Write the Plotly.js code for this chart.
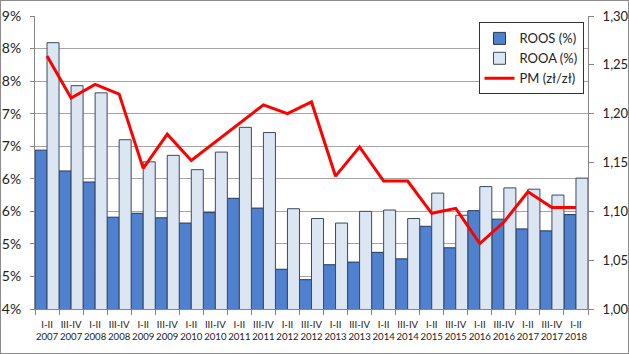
<!DOCTYPE html>
<html>
<head>
<meta charset="utf-8">
<script src="https://cdn.plot.ly/plotly-3.0.1.min.js"></script>
<style>
html,body{margin:0;padding:0;background:#fff;}
#wrap{width:627px;height:352px;border:1px solid #8c8c8c;position:relative;overflow:hidden;}
#chart{width:627px;height:352px;}
</style>
</head>
<body>
<div id="wrap"><div id="chart"></div></div>
<script>
const periods = ["I-II","III-IV","I-II","III-IV","I-II","III-IV","I-II","III-IV","I-II","III-IV","I-II","III-IV","I-II","III-IV","I-II","III-IV","I-II","III-IV","I-II","III-IV","I-II","III-IV","I-II"];
const years = ["2007","2007","2008","2008","2009","2009","2010","2010","2011","2011","2012","2012","2013","2013","2014","2014","2015","2015","2016","2016","2017","2017","2018"];
const roos = [6.44,6.12,5.95,5.41,5.47,5.40,5.32,5.48,5.70,5.55,4.61,4.45,4.68,4.72,4.87,4.77,5.27,4.94,5.51,5.38,5.23,5.20,5.45];
const rooa = [8.09,7.43,7.32,6.60,6.26,6.36,6.14,6.41,6.79,6.71,5.54,5.39,5.32,5.50,5.52,5.39,5.78,5.44,5.88,5.86,5.84,5.75,6.01];
const pm = [1.259,1.216,1.230,1.220,1.144,1.179,1.152,1.171,1.190,1.209,1.200,1.212,1.136,1.166,1.131,1.131,1.098,1.103,1.067,1.089,1.120,1.104,1.104];
const leftTickVals = [4,4.5,5,5.5,6,6.5,7,7.5,8,8.5];
const leftTickText = ["4%","5%","5%","6%","6%","7%","7%","8%","8%","9%"];
const rightTickVals = [1.00,1.05,1.10,1.15,1.20,1.25,1.30];
const rightTickText = ["1,00","1,05","1,10","1,15","1,20","1,25","1,30"];

const cats = periods.map((p,i)=>p+"<br>"+years[i]);
const FONT = "Lato, 'Open Sans', sans-serif";

const traces = [
  {type:'bar', name:'ROOS (%)', x:cats, y:roos, yaxis:'y',
   marker:{color:'#4f81cf', line:{color:'#22395a', width:1}}},
  {type:'bar', name:'ROOA (%)', x:cats, y:rooa, yaxis:'y',
   marker:{color:'#dce6f2', line:{color:'#3b4a5e', width:1}}},
  {type:'scatter', mode:'lines', name:'PM (zł/zł)', x:cats, y:pm, yaxis:'y2',
   line:{color:'#ff0000', width:3}}
];

const layout = {
  width:627, height:352,
  margin:{l:34, r:40, t:14.7, b:43.7, pad:0},
  paper_bgcolor:'#fff', plot_bgcolor:'#fff',
  font:{family:FONT, color:'#222'},
  barmode:'group', bargap:0, bargroupgap:0,
  showlegend:true,
  legend:{x:0.802, y:0.978, xanchor:'left', yanchor:'top',
    bgcolor:'#fff', bordercolor:'#333', borderwidth:1,
    font:{family:FONT, size:13, color:'#222'}, tracegroupgap:0, itemwidth:30},
  xaxis:{type:'category', tickson:'boundaries', ticks:'outside', ticklen:5,
    tickcolor:'#868686', showline:true, linecolor:'#868686', linewidth:1,
    showgrid:false, tickfont:{family:FONT, size:9.6, color:'#222'}, tickangle:0,
    ticklabelstandoff:6, fixedrange:true},
  yaxis:{range:[4,8.5], tickvals:leftTickVals, ticktext:leftTickText,
    ticks:'outside', ticklen:4, tickcolor:'#868686', showline:true,
    linecolor:'#868686', gridcolor:'#a6a6a6', gridwidth:1, zeroline:false,
    tickfont:{family:FONT, size:14, color:'#222'}, ticklabelstandoff:6},
  yaxis2:{range:[1,1.3], overlaying:'y', side:'right', tickvals:rightTickVals,
    ticktext:rightTickText, ticks:'outside', ticklen:5, tickcolor:'#868686',
    showline:true, linecolor:'#868686', showgrid:false, zeroline:false,
    tickfont:{family:FONT, size:13, color:'#222'}, ticklabelstandoff:6}
};

Plotly.newPlot('chart', traces, layout, {displayModeBar:false, staticPlot:true});
</script>
</body>
</html>
